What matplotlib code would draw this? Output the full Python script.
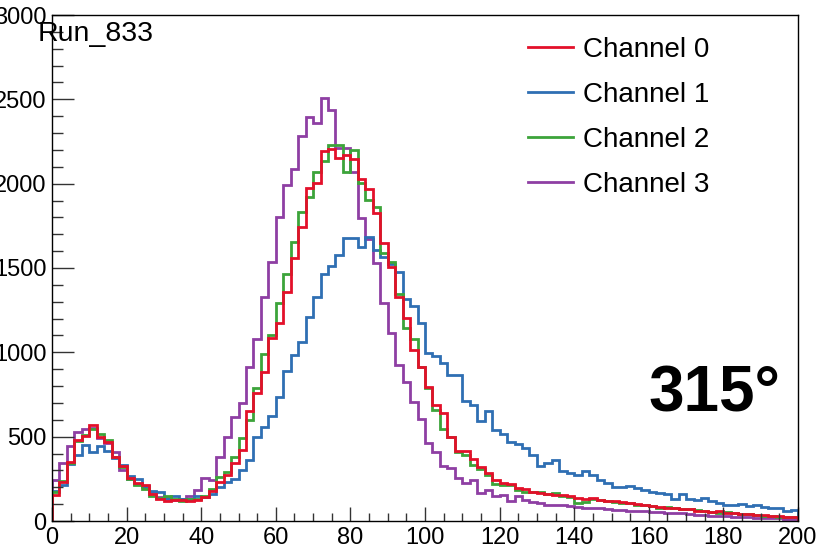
import numpy as np
import matplotlib.pyplot as plt
from matplotlib.lines import Line2D
from matplotlib.ticker import MultipleLocator

plt.rcParams['font.family'] = ['Liberation Sans', 'DejaVu Sans']

# 100 bins of width 2 from 0 to 200
edges = np.linspace(0, 200, 101)

ch0 = [156, 232, 350, 482, 505, 572, 500, 466, 380, 326,
       252, 226, 214, 160, 132, 116, 122, 126, 120, 122,
       140, 175, 230, 275, 345, 420, 655, 757, 885, 1083,
       1176, 1359, 1557, 1745, 1972, 2006, 2193, 2203, 2150, 2169,
       2146, 2025, 1966, 1824, 1646, 1508, 1330, 1202, 1014, 915,
       796, 688, 638, 500, 417, 417, 366, 322, 283, 245,
       228, 222, 198, 188, 172, 165, 158, 152, 155, 148,
       138, 132, 135, 122, 118, 120, 112, 108, 98, 95,
       90, 82, 78, 80, 72, 70, 62, 60, 55, 58,
       50, 46, 44, 40, 38, 34, 30, 28, 26, 24]

ch1 = [178, 215, 340, 394, 450, 408, 442, 415, 372, 332,
       266, 248, 208, 176, 170, 138, 150, 128, 132, 146,
       142, 162, 204, 233, 247, 302, 361, 500, 559, 622,
       737, 889, 984, 1063, 1211, 1326, 1462, 1512, 1577, 1676,
       1676, 1626, 1684, 1606, 1567, 1526, 1478, 1314, 1274, 1176,
       994, 978, 935, 865, 865, 711, 688, 595, 654, 539,
       515, 470, 456, 435, 391, 326, 346, 362, 298, 283,
       273, 298, 273, 243, 223, 204, 204, 207, 194, 184,
       174, 164, 160, 128, 160, 128, 124, 134, 120, 109,
       95, 95, 98, 89, 95, 85, 79, 75, 61, 65]

ch2 = [172, 238, 342, 472, 512, 545, 516, 480, 380, 318,
       250, 212, 190, 150, 138, 146, 128, 118, 128, 132,
       150, 190, 262, 290, 378, 495, 600, 790, 990, 1100,
       1290, 1462, 1656, 1834, 1923, 2071, 2136, 2229, 2229, 2071,
       2199, 2002, 1903, 1859, 1587, 1537, 1346, 1142, 1077, 915,
       786, 658, 543, 500, 411, 391, 332, 306, 273, 219,
       213, 215, 184, 172, 174, 170, 162, 165, 150, 145,
       108, 112, 130, 126, 118, 110, 104, 108, 96, 92,
       88, 80, 84, 75, 70, 74, 64, 58, 56, 50,
       52, 45, 40, 42, 36, 32, 30, 26, 25, 22]

ch3 = [246, 342, 442, 528, 546, 552, 492, 460, 411, 302,
       250, 222, 200, 172, 140, 130, 126, 132, 148, 184,
       255, 243, 381, 496, 618, 701, 915, 1077, 1330, 1537,
       1804, 1992, 2085, 2282, 2393, 2357, 2505, 2436, 2210, 2210,
       2071, 1795, 1670, 1527, 1290, 1112, 925, 826, 707, 605,
       460, 411, 328, 312, 253, 223, 243, 164, 184, 148,
       152, 118, 150, 122, 110, 104, 96, 95, 94, 90,
       82, 79, 80, 75, 70, 66, 65, 62, 60, 58,
       55, 54, 50, 46, 45, 40, 37, 36, 31, 28,
       27, 26, 24, 22, 20, 18, 17, 16, 14, 12]

labels = ['Channel 0', 'Channel 1', 'Channel 2', 'Channel 3']
colors = ['#e3102a', '#2f6fb3', '#3ca43a', '#8e3fa3']
series = [ch0, ch1, ch2, ch3]

fig = plt.figure(figsize=(8.18, 5.46), dpi=100)
ax = fig.add_axes([52/818, 25/546, 746/818, 506/546])

# draw order: purple, blue, green, red on top
for i in [3, 1, 2, 0]:
    ax.stairs(series[i], edges, color=colors[i], lw=2.0)

ax.set_xlim(0, 200)
ax.set_ylim(0, 3000)
ax.xaxis.set_major_locator(MultipleLocator(20))
ax.xaxis.set_minor_locator(MultipleLocator(5))
ax.yaxis.set_major_locator(MultipleLocator(500))
ax.yaxis.set_minor_locator(MultipleLocator(100))
ax.tick_params(axis='both', which='both', direction='in', top=False, right=False,
               labelsize=17, color='#333333', width=1)
ax.tick_params(axis='x', which='major', length=10, pad=4)
ax.tick_params(axis='x', which='minor', length=5.5)
ax.tick_params(axis='y', which='major', length=16, pad=4)
ax.tick_params(axis='y', which='minor', length=8)
for s in ax.spines.values():
    s.set_color('black')
    s.set_linewidth(1)

handles = [Line2D([], [], color=c, lw=2.0) for c in colors]
ax.legend(handles, labels, loc='upper left', bbox_to_anchor=(528/818, 1 - 37/546),
          bbox_transform=fig.transFigure, frameon=False, fontsize=20,
          handlelength=1.62, handletextpad=0.36, labelspacing=0.68,
          borderpad=0, borderaxespad=0)

fig.text(38/818, 1 - 41/546, 'Run_833', fontsize=20.5, va='baseline')
fig.text(648/818, 1 - 412/546, '315°', fontsize=46, fontweight='bold', va='baseline')

fig.savefig('out.png', dpi=100)
